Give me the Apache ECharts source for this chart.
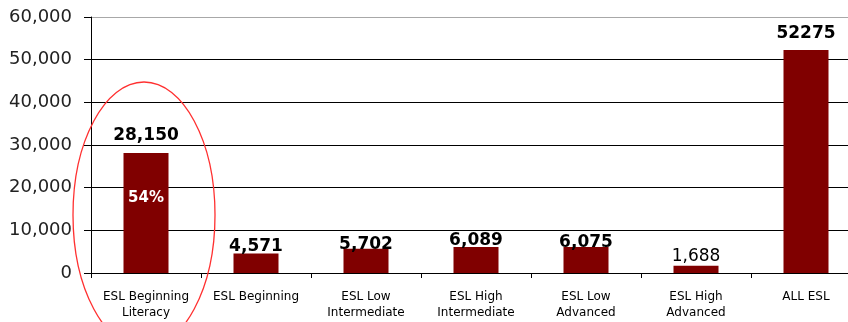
<!DOCTYPE html>
<html>
<head>
<meta charset="utf-8">
<script src="https://cdn.jsdelivr.net/npm/echarts@6/dist/echarts.min.js"></script>
<style>
  html, body { margin: 0; padding: 0; background: #fff; overflow: hidden; }
  /* the plot runs slightly past the right edge of the window */
  #chart { width: 861px; height: 322px; }
</style>
</head>
<body>
<div id="chart"></div>
<script>
// Enrollment by ESL level
const categories = [
  'ESL Beginning\nLiteracy',
  'ESL Beginning',
  'ESL Low\nIntermediate',
  'ESL High\nIntermediate',
  'ESL Low\nAdvanced',
  'ESL High\nAdvanced',
  'ALL ESL'
];
const enrollment = [28150, 4571, 5702, 6089, 6075, 1688, 52275];
const yTicks = { min: 0, max: 60000, interval: 10000 };

// label placement / weight per bar (styling only)
const labelGap = [9, -2, -4, -2, -4, 1, 8];
const labelWeight = ['bold', 'bold', 'bold', 'bold', 'bold', 'normal', 'bold'];

const totalIndex = enrollment.length - 1;
const highlightIndex = 0;
const share = Math.round(enrollment[highlightIndex] / enrollment[totalIndex] * 100);

const FONT = '"DejaVu Sans", Verdana, sans-serif';

const barData = enrollment.map((v, i) => ({
  value: v,
  label: { distance: labelGap[i], fontWeight: labelWeight[i] }
}));

const shareData = enrollment.map((v, i) => (i === highlightIndex ? v : '-'));

const chart = echarts.init(document.getElementById('chart'), null, { renderer: 'canvas' });

chart.setOption({
  animation: false,
  backgroundColor: '#ffffff',
  grid: { left: 91, right: 0, top: 17, bottom: 49, containLabel: false },
  xAxis: {
    type: 'category',
    data: categories,
    boundaryGap: true,
    axisLine: { show: true, lineStyle: { color: '#000', width: 1 } },
    axisTick: { show: true, length: 5, lineStyle: { color: '#000' } },
    axisLabel: {
      interval: 0,
      margin: 16,
      color: '#000',
      fontFamily: FONT,
      fontSize: 12,
      lineHeight: 16
    }
  },
  yAxis: {
    type: 'value',
    min: yTicks.min,
    max: yTicks.max,
    interval: yTicks.interval,
    axisLine: { show: true, lineStyle: { color: '#000', width: 1 } },
    axisTick: { show: true, inside: false, length: 7, lineStyle: { color: '#000' } },
    axisLabel: {
      margin: 19,
      color: '#222',
      fontFamily: FONT,
      fontSize: 18,
      formatter: v => v.toLocaleString('en-US')
    },
    splitLine: {
      show: true,
      lineStyle: { color: ['#000', '#000', '#000', '#000', '#000', '#000', '#a8a8a8'], width: 1 }
    }
  },
  series: [
    {
      type: 'bar',
      data: barData,
      barWidth: 45,
      itemStyle: { color: '#800000' },
      label: {
        show: true,
        position: 'top',
        color: '#000',
        fontFamily: FONT,
        fontSize: 17,
        formatter: p => (p.dataIndex === totalIndex ? String(p.value) : p.value.toLocaleString('en-US'))
      },
      z: 2
    },
    {
      type: 'bar',
      data: shareData,
      barWidth: 45,
      barGap: '-100%',
      silent: true,
      itemStyle: { color: 'rgba(0,0,0,0)' },
      label: {
        show: true,
        position: ['50%', '38%'],
        align: 'center',
        verticalAlign: 'middle',
        color: '#fff',
        fontFamily: FONT,
        fontWeight: 'bold',
        fontSize: 15,
        formatter: () => share + '%'
      },
      z: 3
    }
  ],
  graphic: [
    {
      type: 'ellipse',
      shape: { cx: 144, cy: 215, rx: 71, ry: 133 },
      style: { fill: 'none', stroke: '#ff3030', lineWidth: 1.3 },
      silent: true,
      z: 100
    }
  ]
});
</script>
</body>
</html>
